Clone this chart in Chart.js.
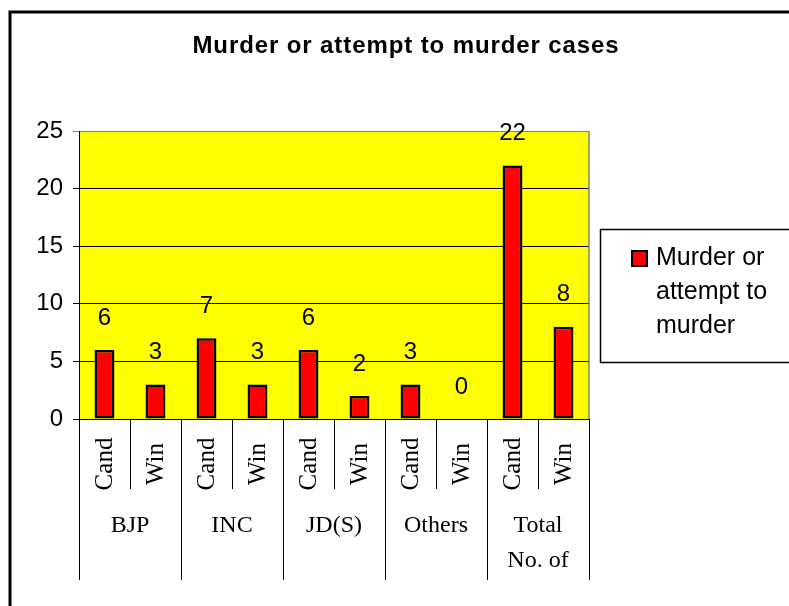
<!DOCTYPE html>
<html>
<head>
<meta charset="utf-8">
<script src="https://cdn.jsdelivr.net/npm/chart.js@4/dist/chart.umd.min.js"></script>
<style>
  html, body { margin: 0; padding: 0; background: #fff; }
  #wrap { width: 789px; height: 606px; position: relative; }
</style>
</head>
<body>
<div id="wrap"><canvas id="c" width="789" height="606"></canvas></div>
<script>
const chartTitle = 'Murder or attempt to murder cases';
const subCategories = ['Cand', 'Win', 'Cand', 'Win', 'Cand', 'Win', 'Cand', 'Win', 'Cand', 'Win'];
const groupLabels = [['BJP'], ['INC'], ['JD(S)'], ['Others'], ['Total', 'No. of']];
const seriesName = ['Murder or', 'attempt to', 'murder'];
const seriesValues = [6, 3, 7, 3, 6, 2, 3, 0, 22, 8];
const yTicks = { min: 0, max: 25, step: 5 };

const SANS = "'Liberation Sans', Arial, sans-serif";
const SERIF = "'Liberation Serif', 'Times New Roman', serif";

const decorPlugin = {
  id: 'decor',
  beforeDraw(chart) {
    const { ctx, chartArea: a } = chart;
    ctx.save();
    ctx.fillStyle = '#ffffff';
    ctx.fillRect(0, 0, chart.width, chart.height);
    ctx.fillStyle = '#FFFF00';
    ctx.fillRect(a.left, a.top, a.right - a.left, a.bottom - a.top);
    ctx.restore();
  },
  afterDatasetsDraw(chart) {
    const { ctx, chartArea: a } = chart;
    const xs = chart.scales.x;
    ctx.save();
    // right border of plot area (gray)
    ctx.strokeStyle = '#808080';
    ctx.lineWidth = 1.5;
    ctx.beginPath();
    ctx.moveTo(a.right, a.top);
    ctx.lineTo(a.right, a.bottom);
    ctx.stroke();

    // data labels
    const meta = chart.getDatasetMeta(0);
    ctx.fillStyle = '#000';
    ctx.font = '24px ' + SANS;
    ctx.textAlign = 'center';
    ctx.textBaseline = 'middle';
    meta.data.forEach((el, i) => {
      ctx.fillText(String(seriesValues[i]), el.x, el.y - 32);
    });

    // category separators
    const n = subCategories.length;
    const bounds = [];
    for (let i = 0; i <= n; i++) {
      if (i === 0) bounds.push(a.left);
      else if (i === n) bounds.push(a.right);
      else bounds.push((xs.getPixelForValue(i - 1) + xs.getPixelForValue(i)) / 2);
    }
    ctx.strokeStyle = '#000';
    ctx.lineWidth = 1;
    bounds.forEach((bx, i) => {
      const x = Math.round(bx) + 0.5;
      ctx.beginPath();
      ctx.moveTo(x, a.bottom);
      ctx.lineTo(x, i % 2 === 0 ? a.bottom + 161 : a.bottom + 70);
      ctx.stroke();
    });

    // rotated sub-category labels
    ctx.font = '25px ' + SERIF;
    subCategories.forEach((lab, i) => {
      const x = xs.getPixelForValue(i);
      ctx.save();
      ctx.translate(x + 1, a.bottom + 45);
      ctx.rotate(-Math.PI / 2);
      ctx.textAlign = 'center';
      ctx.textBaseline = 'middle';
      ctx.fillText(lab, 0, 0);
      ctx.restore();
    });

    // group labels
    ctx.font = '24px ' + SERIF;
    ctx.textAlign = 'center';
    ctx.textBaseline = 'middle';
    groupLabels.forEach((lines, g) => {
      const cx = (bounds[2 * g] + bounds[2 * g + 2]) / 2;
      lines.forEach((t, k) => {
        ctx.fillText(t, cx, a.bottom + 107 + k * 35);
      });
    });

    // title
    ctx.font = 'bold 24px ' + SANS;
    ctx.letterSpacing = '0.9px';
    ctx.textAlign = 'center';
    ctx.textBaseline = 'middle';
    ctx.fillText(chartTitle, 406, 46);
    ctx.letterSpacing = '0px';

    // legend
    ctx.strokeStyle = '#000';
    ctx.lineWidth = 1.5;
    ctx.strokeRect(600.5, 229.5, 260, 133);
    ctx.fillStyle = '#FF0000';
    ctx.fillRect(632, 251, 15, 15);
    ctx.strokeStyle = '#000';
    ctx.lineWidth = 2;
    ctx.strokeRect(632, 251, 15, 15);
    ctx.fillStyle = '#000';
    ctx.font = '25px ' + SANS;
    ctx.textAlign = 'left';
    ctx.textBaseline = 'middle';
    seriesName.forEach((t, k) => {
      ctx.fillText(t, 656, 258 + k * 34);
    });

    // outer frame
    ctx.strokeStyle = '#000';
    ctx.lineWidth = 3;
    ctx.beginPath();
    ctx.moveTo(10, 620);
    ctx.lineTo(10, 12);
    ctx.lineTo(800, 12);
    ctx.stroke();
    ctx.restore();
  }
};

new Chart(document.getElementById('c'), {
  type: 'bar',
  data: {
    labels: subCategories,
    datasets: [{
      label: seriesName.join(' '),
      data: seriesValues,
      backgroundColor: '#FF0000',
      borderColor: '#000000',
      borderWidth: 2.5,
      borderSkipped: false,
      barPercentage: 0.39,
      categoryPercentage: 1.0
    }]
  },
  options: {
    responsive: false,
    animation: false,
    devicePixelRatio: 1,
    layout: { padding: { top: 131, left: 19, right: 200, bottom: 187 } },
    plugins: {
      legend: { display: false },
      title: { display: false },
      tooltip: { enabled: false }
    },
    scales: {
      x: {
        grid: { display: false },
        border: { display: true, color: '#000', width: 1 },
        ticks: { display: false },
        afterFit: s => { s.height = 0; }
      },
      y: {
        min: yTicks.min,
        max: yTicks.max,
        ticks: {
          stepSize: yTicks.step,
          color: '#000',
          font: { family: SANS, size: 24 },
          padding: 10
        },
        grid: {
          color: c => (c.tick && c.tick.value === yTicks.max ? '#808080' : '#000'),
          lineWidth: 1,
          tickLength: 6,
          drawTicks: true
        },
        border: { display: true, color: '#000', width: 1 },
        afterFit: s => { s.width = 60; }
      }
    }
  },
  plugins: [decorPlugin]
});
</script>
</body>
</html>
